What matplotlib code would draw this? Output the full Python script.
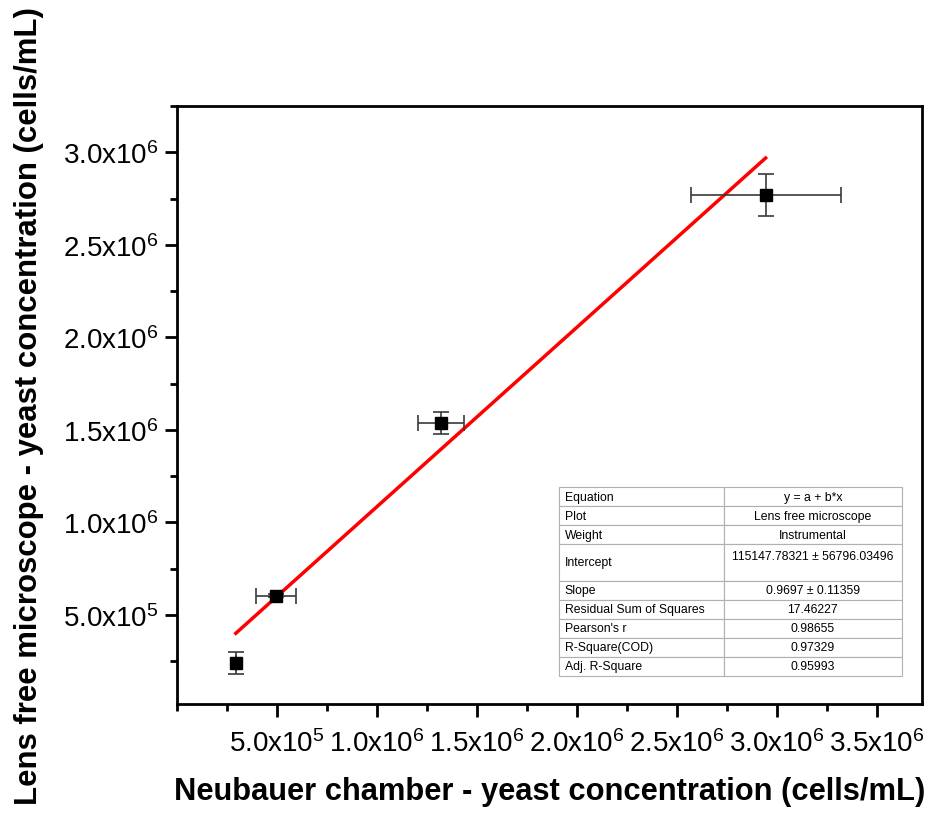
import matplotlib
matplotlib.use('Agg')
import matplotlib.pyplot as plt
import numpy as np
from matplotlib.ticker import FixedLocator, MultipleLocator

plt.rcParams['font.family'] = ['Liberation Sans Narrow', 'Liberation Sans', 'DejaVu Sans']
plt.rcParams['mathtext.default'] = 'regular'

# data
neubauer = [2.94e5, 4.94e5, 1.321e6, 2.943e6]
neubauer_err = [0, 0.99e5, 1.15e5, 3.75e5]
lensfree = [2.40e5, 6.04e5, 1.537e6, 2.769e6]
lensfree_err = [0.58e5, 0.08e5, 0.57e5, 1.16e5]

intercept = 115147.78321
slope = 0.9697

xticks = [5e5, 1e6, 1.5e6, 2e6, 2.5e6, 3e6, 3.5e6]
xticklabels = ['5.0x10$^{5}$', '1.0x10$^{6}$', '1.5x10$^{6}$', '2.0x10$^{6}$',
               '2.5x10$^{6}$', '3.0x10$^{6}$', '3.5x10$^{6}$']
yticks = [5e5, 1e6, 1.5e6, 2e6, 2.5e6, 3e6]
yticklabels = ['5.0x10$^{5}$', '1.0x10$^{6}$', '1.5x10$^{6}$', '2.0x10$^{6}$',
               '2.5x10$^{6}$', '3.0x10$^{6}$']

table_names = ['Equation', 'Plot', 'Weight', 'Intercept', 'Slope',
               'Residual Sum of Squares', "Pearson's r", 'R-Square(COD)', 'Adj. R-Square']
table_values = ['y = a + b*x', 'Lens free microscope', 'Instrumental',
                '115147.78321 \u00b1 56796.03496\n', '0.9697 \u00b1 0.11359',
                '17.46227', '0.98655', '0.97329', '0.95993']

fig = plt.figure(figsize=(9.29, 8.2), dpi=100)
ax = fig.add_axes([0.1905, 0.1402, 0.8020, 0.7293])

ax.errorbar(neubauer, lensfree, xerr=neubauer_err, yerr=lensfree_err,
            fmt='s', color='black', ms=8.5, ecolor='#3a3a3a', elinewidth=1.2,
            capsize=6, capthick=1.2, zorder=3)

xfit = np.array([min(neubauer), max(neubauer)])
ax.plot(xfit, intercept + slope * xfit, color='red', lw=2.5, zorder=2)

ax.set_xlim(0, 3.725e6)
ax.set_ylim(1.8e4, 3.25e6)
ax.xaxis.set_major_locator(FixedLocator(xticks))
ax.set_xticklabels(xticklabels)
ax.yaxis.set_major_locator(FixedLocator(yticks))
ax.set_yticklabels(yticklabels)
ax.xaxis.set_minor_locator(MultipleLocator(2.5e5))
ax.yaxis.set_minor_locator(MultipleLocator(2.5e5))

ax.tick_params(which='major', direction='out', length=9, width=2, labelsize=20, pad=7)
ax.tick_params(axis='x', which='major', pad=9)
ax.tick_params(axis='y', which='major', pad=4)
ax.tick_params(which='minor', direction='out', length=5, width=2)
for s in ax.spines.values():
    s.set_linewidth(2)

ax.set_xlabel('Neubauer chamber - yeast concentration (cells/mL)',
              fontsize=22.2, fontweight='bold', labelpad=14)
ax.set_ylabel('Lens free microscope - yeast concentration (cells/mL)',
              fontsize=22.4, fontweight='bold', labelpad=14)

tab = ax.table(cellText=[[n, v] for n, v in zip(table_names, table_values)],
               colWidths=[0.48, 0.52], cellLoc='center',
               bbox=[(559 - 177) / 745, (705 - 677) / 598, 343 / 745, 189 / 598])
tab.auto_set_font_size(False)
for (r, c), cell in tab.get_celld().items():
    cell.set_edgecolor('#b0b0b0')
    cell.set_linewidth(0.8)
    cell.get_text().set_fontfamily('Liberation Sans')
    cell.get_text().set_fontsize(8.8)
    if r == 3:
        cell.set_height(cell.get_height() * 1.9)
    if c == 0:
        cell.get_text().set_ha('left')
        cell._loc = 'left'
        cell.PAD = 0.035

fig.savefig('out.png', dpi=100)
